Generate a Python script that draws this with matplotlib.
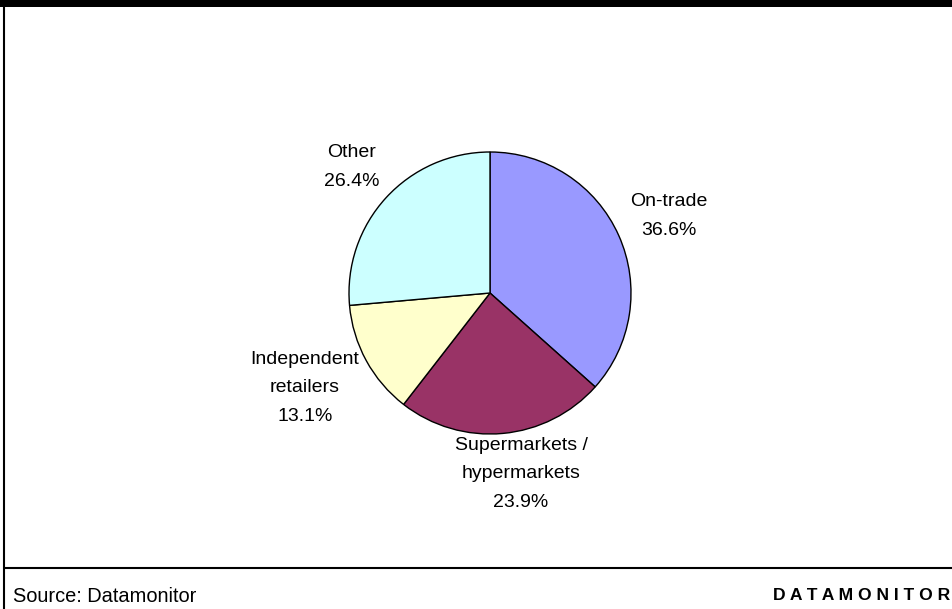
import matplotlib
matplotlib.use("Agg")
import matplotlib.pyplot as plt
from matplotlib.patches import Rectangle

# channel shares, in %
channels = ["On-trade", "Supermarkets /\nhypermarkets", "Independent\nretailers", "Other"]
shares = [36.6, 23.9, 13.1, 26.4]
colors = ["#9999FF", "#993366", "#FFFFCC", "#CCFFFF"]

# where each label block sits (figure pixels, y measured from the bottom)
label_pos = [(669, 393), (521, 135), (305, 221), (352, 442)]

W, H = 953, 609
plt.rcParams["font.family"] = ["Liberation Sans", "DejaVu Sans"]

fig = plt.figure(figsize=(W / 100, H / 100), dpi=100)
ax = fig.add_axes([0, 0, 1, 1])

ax.pie(shares, colors=colors, startangle=90, counterclock=False,
       center=(490, 316), radius=141,
       wedgeprops=dict(edgecolor="black", linewidth=1.0))

for name, val, (x, y) in zip(channels, shares, label_pos):
    ax.text(x, y, f"{name}\n{val:.1f}%", ha="center", va="center",
            fontsize=14, linespacing=1.9, color="black")

ax.set_xlim(0, W)
ax.set_ylim(0, H)
ax.axis("off")

# frame: heavy bar on top, rule on the left, separator above the footer
ax.add_patch(Rectangle((0, H - 7), W, 7, facecolor="black", edgecolor="none",
                       clip_on=False))
ax.plot([4.5, 4.5], [0, H - 7], color="black", lw=1.5, solid_capstyle="butt")
ax.plot([4.5, W], [41, 41], color="black", lw=1.5, solid_capstyle="butt")

ax.text(13, 13, "Source: Datamonitor", ha="left", va="center", fontsize=14.4)
ax.text(W - 3, 13, " ".join("DATAMONITOR"), ha="right", va="center",
        fontsize=12.6, fontweight="bold")

fig.savefig("out.png", dpi=100)
